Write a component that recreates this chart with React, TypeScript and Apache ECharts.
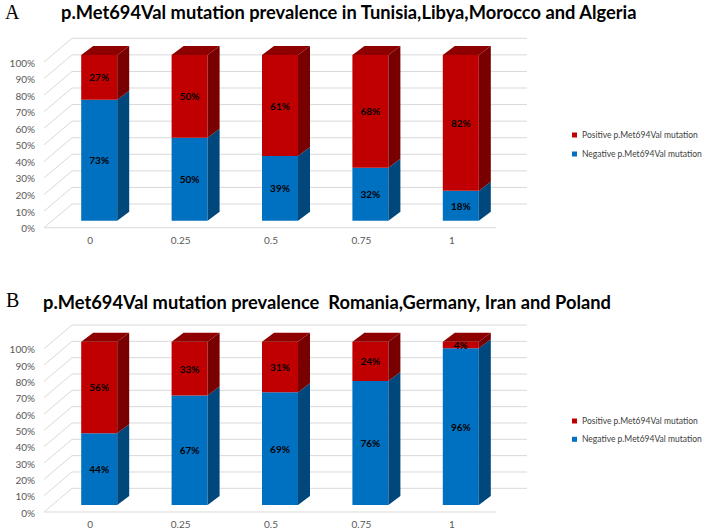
import React, { useEffect, useRef } from "react";
import * as echarts from "echarts";

const categories = ["0", "0.25", "0.5", "0.75", "1"];
const negativeA = [73, 50, 39, 32, 18];
const positiveA = [27, 50, 61, 68, 82];
const negativeB = [44, 67, 69, 76, 96];
const positiveB = [56, 33, 31, 24, 4];
const yTicks = [0, 10, 20, 30, 40, 50, 60, 70, 80, 90, 100];
const posName = "Positive p.Met694Val mutation";
const negName = "Negative p.Met694Val mutation";
const titleA = "p.Met694Val mutation prevalence in Tunisia,Libya,Morocco and Algeria";
const titleB = "p.Met694Val mutation prevalence  Romania,Germany, Iran and Poland";

const BAR_W = 36;
const DX = 12;
const DY = 9;

const RED = { front: "#C00000", side: "#780000", top: "#8E0000" };
const BLUE = { front: "#0070C0", side: "#00487C", top: "#005A9A" };

function barRender(faces: any, showTop: boolean) {
  return (params: any, api: any) => {
    const i = api.value(0);
    const s = api.value(1);
    const e = api.value(2);
    const v = api.value(3);
    const pb = api.coord([i, s]);
    const pt = api.coord([i, e]);
    const x0 = pb[0] - BAR_W / 2;
    const x1 = pb[0] + BAR_W / 2;
    const yb = pb[1];
    const yt = pt[1];
    const children: any[] = [
      { type: "rect", shape: { x: x0, y: yt, width: BAR_W, height: yb - yt }, style: { fill: faces.front } },
      {
        type: "polygon",
        shape: { points: [[x1, yb], [x1 + DX, yb - DY], [x1 + DX, yt - DY], [x1, yt]] },
        style: { fill: faces.side },
      },
    ];
    if (showTop) {
      children.push({
        type: "polygon",
        shape: { points: [[x0, yt], [x0 + DX, yt - DY], [x1 + DX, yt - DY], [x1, yt]] },
        style: { fill: faces.top },
      });
    }
    children.push({
      type: "text",
      style: {
        text: v + "%",
        x: pb[0],
        y: (yb + yt) / 2,
        align: "center",
        verticalAlign: "middle",
        fontFamily: "Lato",
        fontWeight: "bold",
        fontSize: 10,
        fill: "#000",
      },
      z2: 10,
    });
    return { type: "group", children };
  };
}

function frameRender(params: any, api: any) {
  const cs = params.coordSys;
  const v = api.value(1);
  const p = api.coord([0, v]);
  const y = p[1];
  const lineStyle = { stroke: "#D9D9D9", lineWidth: 1 };
  const fx = cs.x - 10;
  const bx = cs.x + 18;
  const children: any[] = [
    { type: "line", shape: { x1: fx, y1: y + 7, x2: bx, y2: y - 16.7 }, style: lineStyle },
    { type: "line", shape: { x1: bx, y1: y - 16.7, x2: cs.x + cs.width + 21, y2: y - 16.7 }, style: lineStyle },
  ];
  if (v === 0) {
    children.push({
      type: "line",
      shape: { x1: fx, y1: y + 7, x2: cs.x + cs.width - 10, y2: y + 7 },
      style: lineStyle,
    });
  }
  return { type: "group", children };
}

function panelSeries(gi: number, neg: number[], pos: number[]) {
  return [
    {
      type: "custom",
      name: "frame" + gi,
      xAxisIndex: gi,
      yAxisIndex: gi,
      z: 1,
      silent: true,
      renderItem: frameRender,
      encode: { x: 0, y: 1 },
      data: yTicks.map((t) => [0, t]),
    },
    {
      type: "custom",
      name: negName,
      xAxisIndex: gi,
      yAxisIndex: gi,
      z: 3,
      itemStyle: { color: BLUE.front },
      renderItem: barRender(BLUE, false),
      encode: { x: 0, y: [1, 2] },
      data: neg.map((n, i) => [i, 0, n, n]),
    },
    {
      type: "custom",
      name: posName,
      xAxisIndex: gi,
      yAxisIndex: gi,
      z: 4,
      itemStyle: { color: RED.front },
      renderItem: barRender(RED, true),
      encode: { x: 0, y: [1, 2] },
      data: pos.map((p, i) => [i, neg[i], neg[i] + p, p]),
    },
  ];
}

const axisText = { color: "#595959", fontFamily: "Lato", fontSize: 10 };

function xAxisFor(gi: number) {
  return {
    gridIndex: gi,
    type: "category",
    data: categories,
    axisLine: { show: false },
    axisTick: { show: false },
    axisLabel: { ...axisText, margin: 14, padding: [0, 18, 0, 0] },
  };
}

function yAxisFor(gi: number) {
  return {
    gridIndex: gi,
    type: "value",
    min: 0,
    max: 100,
    interval: 10,
    axisLine: { show: false },
    axisTick: { show: false },
    splitLine: { show: false },
    axisLabel: { ...axisText, formatter: "{value}%", margin: 19, verticalAlign: "top", lineHeight: 15 },
  };
}

function legendFor(top: number, gap: number) {
  return {
    orient: "vertical",
    left: 567,
    top,
    itemWidth: 5,
    itemHeight: 5,
    itemGap: gap,
    icon: "rect",
    selectedMode: false,
    textStyle: { fontFamily: "Lato", fontSize: 8.5, color: "#404040", lineHeight: 12 },
    data: [posName, negName],
  };
}

const panelLetter = { fontFamily: "Liberation Serif", fontWeight: "normal", fontSize: 20, color: "#000", lineHeight: 22 };
const panelTitle = { fontFamily: "Lato", fontWeight: "bold", fontSize: 18.3, color: "#000", lineHeight: 20 };

export default function App() {
  const ref = useRef<HTMLDivElement>(null);
  useEffect(() => {
    if (!ref.current) return;
    const chart = echarts.init(ref.current, null, { renderer: "svg" });
    chart.setOption({
      animation: false,
      backgroundColor: "#fff",
      title: [
        { text: "A", left: 5, top: 1, padding: 0, textStyle: panelLetter },
        { text: titleA, left: 61, top: 1.7, padding: 0, textStyle: panelTitle },
        { text: "B", left: 6, top: 289, padding: 0, textStyle: panelLetter },
        { text: titleB, left: 43, top: 291.7, padding: 0, textStyle: panelTitle },
      ],
      legend: [legendFor(124, 7), legendFor(410, 6.3)],
      grid: [
        { left: 54, width: 452, top: 55, height: 165.7 },
        { left: 54, width: 452, top: 341.7, height: 163.3 },
      ],
      xAxis: [xAxisFor(0), xAxisFor(1)],
      yAxis: [yAxisFor(0), yAxisFor(1)],
      series: [...panelSeries(0, negativeA, positiveA), ...panelSeries(1, negativeB, positiveB)],
    });
    return () => chart.dispose();
  }, []);
  return <div ref={ref} style={{ position: "fixed", left: 0, top: 0, width: 708, height: 531 }} />;
}
